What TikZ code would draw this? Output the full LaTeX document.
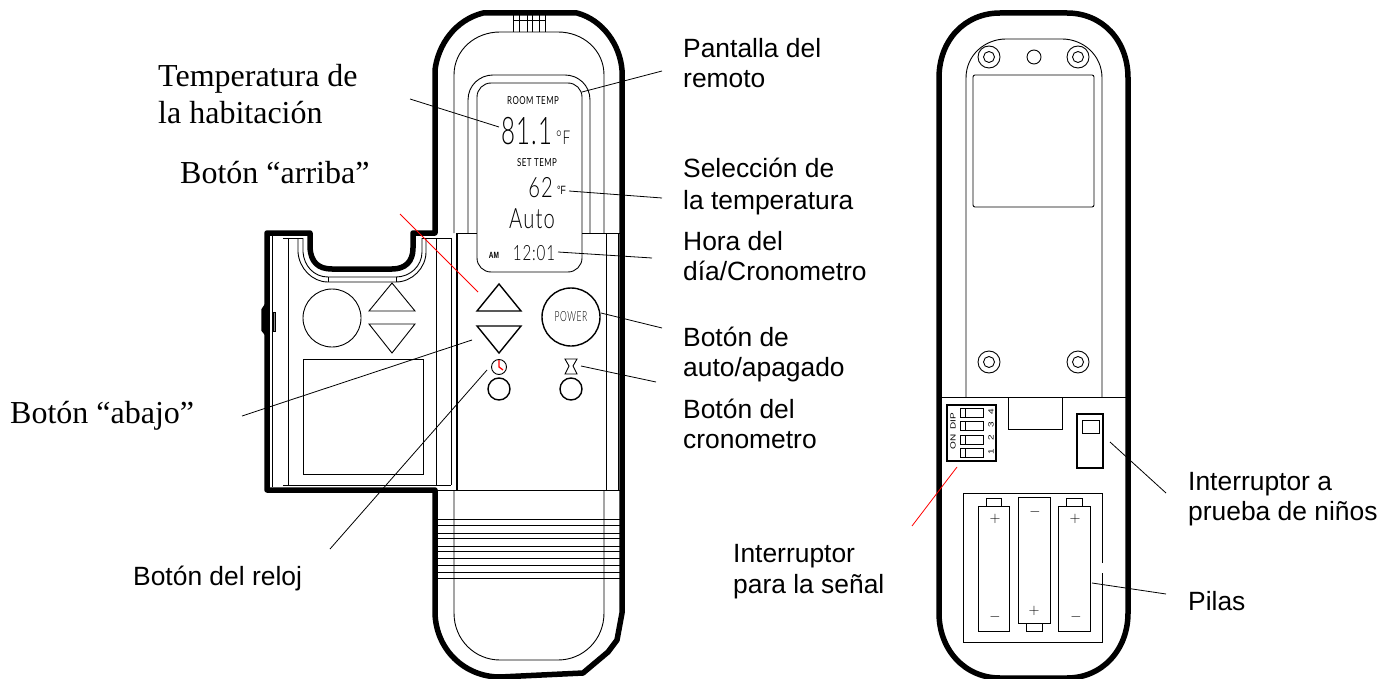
\documentclass[tikz,border=0pt]{standalone}
\usepackage{fontspec}
\newfontfamily\seriffam{Liberation Serif}
\newfontfamily\sansfam{Liberation Sans}
\newfontfamily\lcdfam[LetterSpace=6]{Lato Light}
\newfontfamily\lcdsmall[LetterSpace=6]{Lato}
\tikzset{
  body/.style={line width=5.5pt, line join=round},
  part/.style={line width=.9pt},
  key/.style={line width=1.4pt},
  leader/.style={line width=.8pt},
  redleader/.style={line width=.8pt, red},
  seriflabel/.style={font=\seriffam\fontsize{32}{36}\selectfont, anchor=base west, inner sep=0pt},
  sanslabel/.style={font=\sansfam\fontsize{26.4}{30}\selectfont, anchor=base west, inner sep=0pt},
  lcd/.style={font=\lcdfam\fontsize{#1}{#1}\selectfont, inner sep=0pt, xscale=.72},
  lcdtitle/.style={font=\lcdsmall\fontsize{11}{11}\selectfont, inner sep=0pt, xscale=.72},
  dipmark/.style={font=\sansfam\fontsize{10}{10}\selectfont, inner sep=0pt, xscale=.75, rotate=90},
  sign/.style={font=\fontsize{15}{15}\selectfont, inner sep=0pt}
}
\begin{document}
\begin{tikzpicture}[x=1pt, y=-1pt]
  \useasboundingbox (0, 0) rectangle (1394, 679) ;
  % front of the remote, with the open cover
  \draw[body] (435, 233) -- (435, 70) .. controls (438, 45) and (455, 20) .. (483, 13) -- (577, 13)
    .. controls (603, 20) and (620, 45) .. (622, 70) -- (622, 613) -- (617, 640) -- (608, 652) -- (583, 673)
    -- (500, 677) .. controls (465, 677) and (436, 650) .. (435, 613) -- (435, 490) -- (267, 490) -- (267, 233)
    -- (310, 233) -- (310, 248) .. controls (311, 262) and (318, 269) .. (332, 269) -- (392, 269)
    .. controls (405, 269) and (413, 262) .. (413, 248) -- (413, 233) -- cycle ;
  \draw[part] (454, 233) -- (454, 75) .. controls (454, 50) and (475, 32) .. (500, 32) -- (558, 32)
    .. controls (583, 32) and (604, 50) .. (604, 75) -- (604, 233) ;
  \draw[part] (454, 490) -- (454, 613) .. controls (454, 640) and (475, 660) .. (500, 660) -- (558, 660)
    .. controls (583, 660) and (604, 640) .. (604, 613) -- (604, 490) ;
  \draw[part] (513, 14) -- (513, 32) (519, 14) -- (519, 32) (527, 14) -- (527, 32) (532, 14) -- (532, 32)
    (539, 14) -- (539, 32) (545, 14) -- (545, 32) (513, 20) -- (545, 20) ;
  \draw[part] (468, 233) -- (468, 100) .. controls (468, 85) and (480, 75) .. (493, 75) -- (565, 75)
    .. controls (578, 75) and (590, 85) .. (590, 100) -- (590, 233) ;
  \draw[part, rounded corners=14pt] (477, 83) rectangle (582, 272) ;
  \draw[part] (457, 233) -- (477, 233) (582, 233) -- (620, 233) (437, 490) -- (620, 490) ;
  \draw[part] (606, 233) -- (606, 490) (618, 233) -- (618, 490) ;
  \draw[line width=2pt] (457, 233) -- (457, 490) ;
  % ridges at the lower end
  \draw[part] (438, 519) -- (620, 519) (438, 525) -- (620, 525) (438, 533) -- (620, 533) ;
  \draw[part] (438, 538) -- (620, 538) (438, 546) -- (620, 546) (438, 551) -- (620, 551) ;
  \draw[part] (438, 558) -- (620, 558) (438, 565) -- (620, 565) (438, 572) -- (620, 572) (438, 578) -- (620, 578) ;
  % inside of the cover
  \draw[part] (272, 236) -- (272, 487) (288, 238) -- (288, 485) (436, 238) -- (436, 485) (451, 238) -- (451, 485) ;
  \draw[part] (283, 485) -- (451, 485) (283, 238) -- (303, 238) (422, 238) -- (451, 238) ;
  \draw[part] (298, 238) -- (298, 252) .. controls (299, 268) and (312, 282) .. (328, 282) -- (396, 282)
    .. controls (412, 282) and (426, 268) .. (426, 252) -- (426, 238) ;
  \draw[part] (303, 238) -- (303, 252) .. controls (304, 266) and (314, 277) .. (328, 277) -- (396, 277)
    .. controls (410, 277) and (422, 266) .. (422, 252) -- (422, 238) ;
  \draw[part] (328, 277) -- (328, 282) (396, 277) -- (396, 282) ;
  \draw[line width=3.5pt] (267, 304) -- (263, 310) -- (263, 330) -- (267, 335) ;
  \draw[part, fill=black!45] (273, 312) rectangle (275, 331) ;
  \draw[part] (332, 318) circle (29pt) ;
  \draw[part] (392, 283) -- (415, 311) -- (369, 311) -- cycle ;
  \draw[part] (369, 324) -- (415, 324) -- (392, 353) -- cycle ;
  \draw[part] (303, 359) rectangle (423, 474) ;
  % keys of the remote
  \draw[key] (499, 284) -- (521, 311) -- (477, 311) -- cycle ;
  \draw[key] (477, 326) -- (521, 326) -- (499, 353) -- cycle ;
  \draw[key] (571, 317) circle (29pt) ;
  \node[lcd=14, xscale=.85] (powerText) at (571, 317) {POWER} ;
  \draw[part] (499, 367) circle (7.5pt) ;
  \draw[red, line width=1.3pt] (499, 360) -- (499, 367) -- (503, 370) ;
  \draw[key] (499, 389) circle (11pt) ;
  \draw[key] (571, 389) circle (11pt) ;
  \draw[part] (565, 359) -- (577, 359) -- (573, 366) -- (577, 374) -- (565, 374) -- (569, 366) -- cycle ;
  % the display
  \node[lcdtitle] (roomText) at (533, 101) {ROOM TEMP} ;
  \node[lcd=38, xscale=.88, anchor=base east] (roomValue) at (553, 145) {81.1} ;
  \node[lcd=19, anchor=base west] (roomUnit) at (556, 145) {°F} ;
  \node[lcdtitle] (setText) at (537, 163) {SET TEMP} ;
  \node[lcd=28, anchor=base east] (setValue) at (553, 197) {62} ;
  \node[lcd=12, anchor=base west, font=\sansfam\fontsize{12}{12}\selectfont] (setUnit) at (557, 195) {°F} ;
  \node[lcd=28, anchor=base] (modeText) at (532, 228) {Auto} ;
  \node[lcd=9, anchor=base, font=\sansfam\bfseries\fontsize{9}{9}\selectfont] (amText) at (494, 258) {AM} ;
  \node[lcd=21, anchor=base] (clockText) at (534, 260) {12:01} ;
  % back of the remote
  \draw[body] (939, 78) .. controls (939, 40) and (965, 13) .. (1000, 13) -- (1067, 13)
    .. controls (1102, 13) and (1128, 40) .. (1128, 78) -- (1128, 613)
    .. controls (1128, 650) and (1102, 678) .. (1067, 678) -- (1000, 678)
    .. controls (965, 678) and (939, 650) .. (939, 613) -- cycle ;
  \draw[part] (966, 397) -- (966, 78) .. controls (966, 55) and (985, 39) .. (1006, 39) -- (1062, 39)
    .. controls (1083, 39) and (1102, 55) .. (1102, 78) -- (1102, 397) ;
  \draw[part] (941, 397) -- (1126, 397) ;
  \draw[part] (989, 57) circle (11pt) (989, 57) circle (5.5pt) ;
  \draw[part] (1078, 57) circle (11pt) (1078, 57) circle (5.5pt) ;
  \draw[part] (1034, 57) circle (7pt) ;
  \draw[part] (989, 362) circle (11pt) (989, 362) circle (5.5pt) ;
  \draw[part] (1078, 362) circle (11pt) (1078, 362) circle (5.5pt) ;
  \draw[part, rounded corners=2pt] (973, 75) rectangle (1094, 207) ;
  % switches
  \draw[key] (947, 405) rectangle (996, 461) ;
  \draw[part] (960, 408) rectangle (983, 417) (960, 421) rectangle (983, 430) ;
  \draw[part] (960, 435) rectangle (983, 444) (960, 448) rectangle (983, 457) ;
  \draw[part] (965, 408) -- (965, 417) (965, 421) -- (965, 430) (965, 435) -- (965, 444) (965, 448) -- (965, 457) ;
  \node[dipmark] (dipFour) at (991, 412) {4} ;
  \node[dipmark] (dipThree) at (991, 425) {3} ;
  \node[dipmark] (dipTwo) at (991, 438) {2} ;
  \node[dipmark] (dipOne) at (991, 452) {1} ;
  \node[dipmark] (dipText) at (953, 421) {DIP} ;
  \node[dipmark] (onText) at (953, 442) {ON} ;
  \draw[part] (1008, 397) -- (1008, 429) -- (1062, 429) -- (1062, 397) ;
  \draw[key] (1077, 414) rectangle (1103, 468) ;
  \draw[part] (1082, 420) rectangle (1099, 433) ;
  % batteries
  \draw[part] (1102, 563) -- (1102, 493) -- (963, 493) -- (963, 642) -- (1102, 642) -- (1102, 573) ;
  \draw[part] (978, 506) rectangle (1009, 631) (986, 498) rectangle (1001, 506) ;
  \draw[part] (1018, 497) rectangle (1050, 623) (1026, 623) rectangle (1042, 631) ;
  \draw[part] (1058, 506) rectangle (1090, 631) (1066, 498) rectangle (1082, 506) ;
  \node[sign] (plusLeft) at (995, 519) {$+$} ;
  \node[sign] (minusLeft) at (995, 617) {$-$} ;
  \node[sign] (minusMid) at (1035, 512) {$-$} ;
  \node[sign] (plusMid) at (1034, 611) {$+$} ;
  \node[sign] (plusRight) at (1075, 519) {$+$} ;
  \node[sign] (minusRight) at (1076, 617) {$-$} ;
  % ends of the leader lines
  \coordinate (tempFrom) at (410, 99) ;
  \coordinate (tempTo) at (499, 127) ;
  \coordinate (screenFrom) at (662, 71) ;
  \coordinate (screenTo) at (582, 92) ;
  \coordinate (setFrom) at (662, 198) ;
  \coordinate (setTo) at (569, 191) ;
  \coordinate (timeFrom) at (652, 258) ;
  \coordinate (timeTo) at (558, 252) ;
  \coordinate (powerFrom) at (662, 328) ;
  \coordinate (powerTo) at (601, 313) ;
  \coordinate (timerFrom) at (656, 382) ;
  \coordinate (timerTo) at (581, 366) ;
  \coordinate (downFrom) at (242, 416) ;
  \coordinate (downTo) at (472, 340) ;
  \coordinate (clockFrom) at (330, 549) ;
  \coordinate (clockTo) at (487, 370) ;
  \coordinate (upFrom) at (400, 214) ;
  \coordinate (upTo) at (478, 292) ;
  \coordinate (dipFrom) at (912, 526) ;
  \coordinate (dipTo) at (957, 467) ;
  \coordinate (lockFrom) at (1166, 493) ;
  \coordinate (lockTo) at (1110, 442) ;
  \coordinate (battFrom) at (1166, 594) ;
  \coordinate (battTo) at (1092, 583) ;
  \draw[leader] (tempFrom) -- (tempTo) ;
  \draw[leader] (screenFrom) -- (screenTo) ;
  \draw[leader] (setFrom) -- (setTo) ;
  \draw[leader] (timeFrom) -- (timeTo) ;
  \draw[leader] (powerFrom) -- (powerTo) ;
  \draw[leader] (timerFrom) -- (timerTo) ;
  \draw[leader] (downFrom) -- (downTo) ;
  \draw[leader] (clockFrom) -- (clockTo) ;
  \draw[redleader] (upFrom) -- (upTo) ;
  \draw[redleader] (dipFrom) -- (dipTo) ;
  \draw[leader] (lockFrom) -- (lockTo) ;
  \draw[leader] (battFrom) -- (battTo) ;
  % labels
  \node[seriflabel] (tempLabel) at (158, 87) {Temperatura de} ;
  \node[seriflabel] (tempLabelB) at (158, 124) {la habitación} ;
  \node[seriflabel] (upLabel) at (180, 184) {Botón “arriba”} ;
  \node[seriflabel] (downLabel) at (10, 423) {Botón “abajo”} ;
  \node[sanslabel] (clockLabel) at (133, 585) {Botón del reloj} ;
  \node[sanslabel] (screenLabel) at (683, 58) {Pantalla del} ;
  \node[sanslabel] (screenLabelB) at (683, 88) {remoto} ;
  \node[sanslabel] (setLabel) at (683, 178) {Selección de} ;
  \node[sanslabel] (setLabelB) at (683, 209) {la temperatura} ;
  \node[sanslabel] (timeLabel) at (683, 250) {Hora del} ;
  \node[sanslabel] (timeLabelB) at (683, 280) {día/Cronometro} ;
  \node[sanslabel] (powerLabel) at (683, 346) {Botón de} ;
  \node[sanslabel] (powerLabelB) at (683, 376) {auto/apagado} ;
  \node[sanslabel] (timerLabel) at (683, 418) {Botón del} ;
  \node[sanslabel] (timerLabelB) at (683, 448) {cronometro} ;
  \node[sanslabel] (dipLabel) at (733, 562) {Interruptor} ;
  \node[sanslabel] (dipLabelB) at (733, 593) {para la señal} ;
  \node[sanslabel] (lockLabel) at (1188, 490) {Interruptor a} ;
  \node[sanslabel] (lockLabelB) at (1188, 520) {prueba de niños} ;
  \node[sanslabel] (battLabel) at (1188, 610) {Pilas} ;
\end{tikzpicture}
\end{document}
